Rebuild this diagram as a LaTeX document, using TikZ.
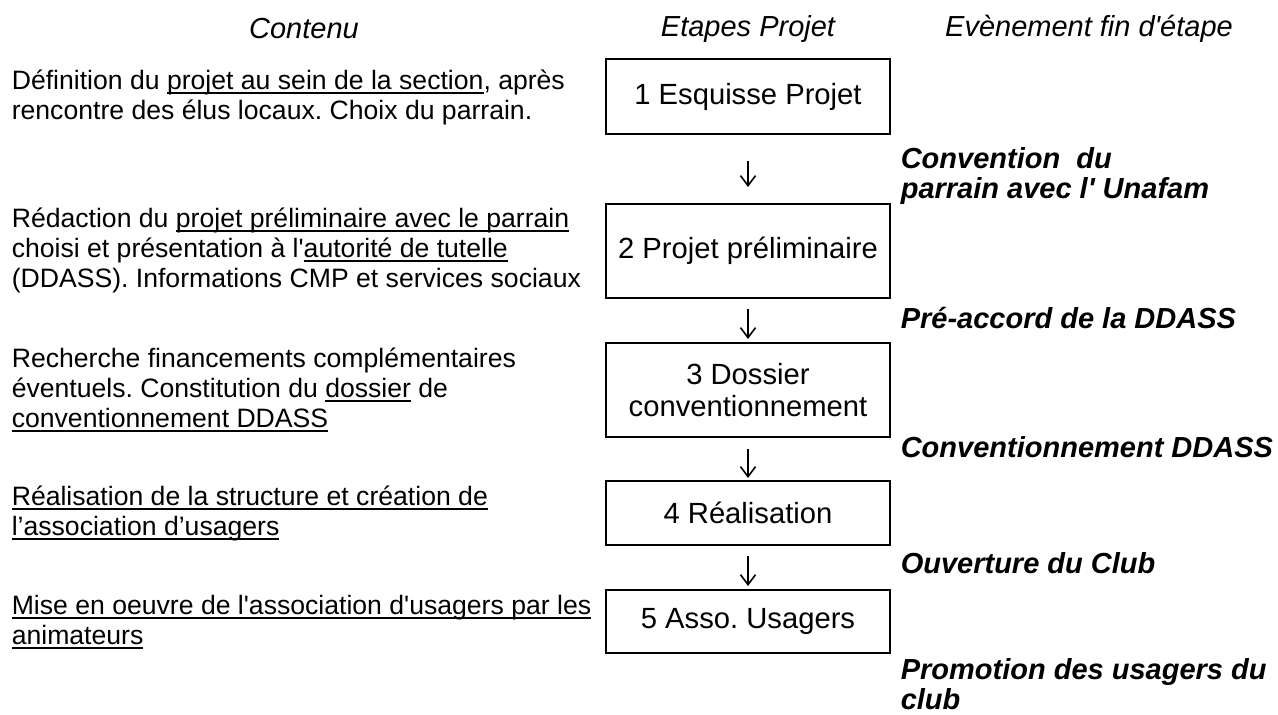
\documentclass[tikz,border=0pt]{standalone}
\usepackage{fontspec}
\usetikzlibrary{arrows.meta}

\newfontfamily\arialfont{Liberation Sans}
\newsavebox\ulbox
\newcommand\ulword[1]{\sbox\ulbox{#1}\rlap{\rule[-4.5pt]{\wd\ulbox}{2pt}}\usebox\ulbox}
\frenchspacing

\begin{document}
\begin{tikzpicture}[x=1pt,y=-1pt,->,>={Straight Barb[length=10pt,width=15pt]},line width=1.6pt,
    head node/.style={inner sep=0pt,font=\arialfont\fontsize{29}{30}\selectfont\itshape},
    stage node/.style={draw,line width=2pt,minimum width=284pt,align=center,inner sep=0pt,font=\arialfont\fontsize{29.2}{32}\selectfont},
    content node/.style={anchor=west,align=left,inner sep=0pt,font=\arialfont\fontsize{26.6}{30}\selectfont},
    event node/.style={anchor=west,align=left,inner sep=0pt,font=\arialfont\fontsize{29}{30}\selectfont\bfseries\itshape}]
    \useasboundingbox (0,0) rectangle (1278,715);

    % column heads
    \node[head node] (hc) at (304,29) {Contenu};
    \node[head node] (he) at (748,29) {Etapes Projet};
    \node[head node] (hf) at (1089,29) {Evènement fin d'étape};

    % project stages
    \node[stage node,minimum height=75pt] (E1) at (748,96.5) {1 Esquisse Projet};
    \node[stage node,minimum height=94pt] (E2) at (748,251) {2 Projet préliminaire};
    \node[stage node,minimum height=94pt] (E3) at (748,390) {3 Dossier\\conventionnement};
    \node[stage node,minimum height=64pt] (E4) at (748,513) {4 Réalisation};
    \node[stage node,minimum height=63pt] (E5) at (748,621.5) {5 Asso. Usagers};

    % contents
    \node[content node] (C1) at (11,97) {Définition du \ulword{projet au sein de la section}, après\\rencontre des élus locaux. Choix du parrain.};
    \node[content node] (C2) at (11,250) {Rédaction du \ulword{projet préliminaire avec le parrain}\\choisi et présentation à l'\ulword{autorité de tutelle}\\(DDASS). Informations CMP et services sociaux};
    \node[content node] (C3) at (11,390) {Recherche financements complémentaires\\éventuels. Constitution du \ulword{dossier} de\\\ulword{conventionnement DDASS}};
    \node[content node] (C4) at (11,513) {\ulword{Réalisation de la structure et création de}\\\ulword{l’association d’usagers}};
    \node[content node] (C5) at (11,622) {\ulword{Mise en oeuvre de l'association d'usagers par les}\\\ulword{animateurs}};

    % end of stage events
    \node[event node] (V1) at (900,176) {Convention~ du\\parrain avec l' Unafam};
    \node[event node] (V2) at (900,318) {Pré-accord de la DDASS};
    \node[event node] (V3) at (900,447) {Conventionnement DDASS};
    \node[event node] (V4) at (900,563) {Ouverture du Club};
    \node[event node] (V5) at (900,684) {Promotion des usagers du\\club};

    \path
        (E1) edge[shorten <=26pt, shorten >=16pt] (E2)
        (E2) edge[shorten <=10pt, shorten >=3pt] (E3)
        (E3) edge[shorten <=11pt, shorten >=2pt] (E4)
        (E4) edge[shorten <=10pt, shorten >=3pt] (E5);
\end{tikzpicture}
\end{document}
